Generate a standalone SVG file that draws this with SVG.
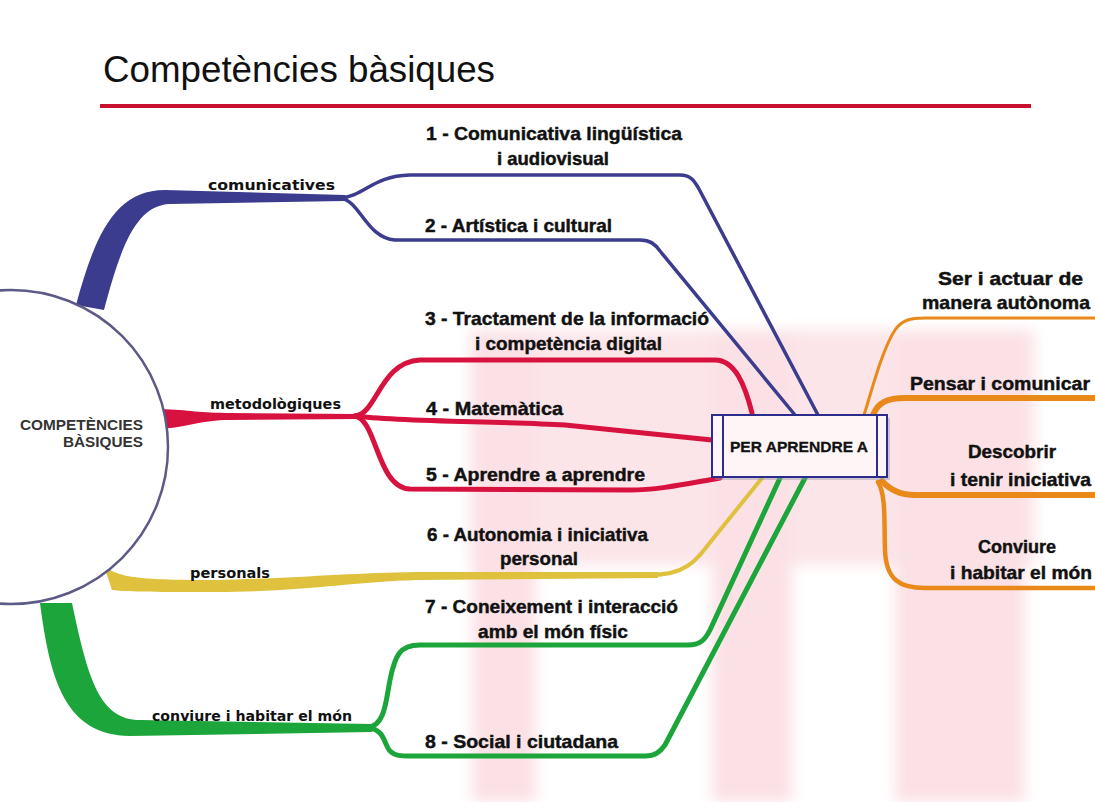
<svg xmlns="http://www.w3.org/2000/svg" width="1095" height="802" viewBox="0 0 1095 802">
<defs>
<style>
.t{font-family:"Liberation Sans",Arial,sans-serif;font-weight:bold;font-size:19px;fill:#111;stroke:#111;stroke-width:0.45}
.s{font-family:"DejaVu Sans","Liberation Sans",sans-serif;font-weight:bold;font-size:14px;fill:#111}
.ln{fill:none;stroke-linecap:round;stroke-linejoin:round}
.blue{stroke:#3c3c8e}
.red{stroke:#d8123f}
.yel{stroke:#dfc13d}
.grn{stroke:#1ca53a}
.org{stroke:#e8891a}
.wm{fill:#fbe1e5}
</style>
<filter id="soft" x="-5%" y="-5%" width="110%" height="110%"><feGaussianBlur stdDeviation="7"/></filter>
</defs>
<rect width="1095" height="802" fill="#ffffff"/>
<g id="watermark" filter="url(#soft)">
<rect class="wm" x="470" y="330" width="565" height="235" opacity="0.85"/>
<rect class="wm" x="472" y="330" width="64" height="472"/>
<rect class="wm" x="712" y="330" width="80" height="472"/>
<rect class="wm" x="895" y="330" width="130" height="472"/>
</g>
<g id="title">
<text x="103" y="82" style="font-family:'Liberation Sans',Arial,sans-serif;font-size:36px;fill:#111" textLength="392" lengthAdjust="spacingAndGlyphs">Competències bàsiques</text>
<rect x="100" y="104" width="931" height="4" fill="#c8102e"/>
</g>
<g id="connectors">
<path d="M76 305 C95 235 115 190 165 190 L345 195 L345 201 L170 204 C135 205 120 250 104 310 Z" fill="#3c3c8e"/>
<path class="ln blue" stroke-width="3.5" d="M340 198 C365 196 372 176 410 175 L680 175 C690 175 694 180 699 189 L818 415"/>
<path class="ln blue" stroke-width="3.5" d="M340 198 C360 200 366 238 395 240 L640 240 C650 240 655 244 660 251 L795 415"/>
<path d="M160 409 C190 410 200 413 230 413 L358 414 L358 419 L230 420 C200 420 190 427 160 429 Z" fill="#d8123f"/>
<path class="ln red" stroke-width="5" d="M355 416 C377 414 380 362 420 360 L715 360 C735 360 745 385 752 413"/>
<path class="ln red" stroke-width="5" d="M355 416 C400 422 500 421 565 425 L712 440"/>
<path class="ln red" stroke-width="5" d="M355 416 C377 420 377 488 410 489 L630 490 C660 490 690 483 720 478"/>
<path d="M104 566 C120 578 140 580 216 580 C300 578 350 573 417 572 L658 572 L658 578 L417 580 C350 582 300 592 216 592 C160 592 130 592 112 590 Z" fill="#dfc13d"/>
<path class="ln yel" stroke-width="4" d="M650 575 C685 575 695 562 712 540 L762 478"/>
<path d="M40 603 L72 603 C88 680 100 720 140 720 L372 724 L372 732 L130 736 C65 735 50 680 40 603 Z" fill="#1ca53a"/>
<path class="ln grn" stroke-width="5" d="M368 727 C385 726 386 700 390 680 C395 655 400 645 420 645 L688 645 C700 645 705 640 710 630 L780 478"/>
<path class="ln grn" stroke-width="5" d="M368 728 C385 729 384 745 390 751 C395 756 400 756 412 756 L645 756 C655 756 660 752 665 745 L805 478"/>
<path class="ln org" stroke-width="3" d="M864 415 C872 390 882 350 895 330 C902 320 910 318 925 318 L1095 318"/>
<path class="ln org" stroke-width="6" d="M873 415 C878 402 888 398 905 398 L1095 398"/>
<path class="ln org" stroke-width="6" d="M882 481 C890 490 900 495 915 495 L1095 495"/>
<path class="ln org" stroke-width="4.5" d="M878 482 C886 495 884 520 885 550 C886 580 900 588 925 588 L1095 588"/>
</g>
<g id="root">
<circle cx="11" cy="447" r="157" fill="#ffffff" stroke="#5c5a86" stroke-width="2.5"/>
<text x="143" y="430" text-anchor="end" style="font-family:'Liberation Sans',Arial,sans-serif;font-weight:bold;font-size:14px;fill:#333" textLength="123" lengthAdjust="spacingAndGlyphs">COMPETÈNCIES</text>
<text x="143" y="447" text-anchor="end" style="font-family:'Liberation Sans',Arial,sans-serif;font-weight:bold;font-size:14px;fill:#333" textLength="80" lengthAdjust="spacingAndGlyphs">BÀSIQUES</text>
</g>
<g id="label-comunicatives"><text class="s" x="208" y="190" textLength="127" lengthAdjust="spacingAndGlyphs">comunicatives</text></g>
<g id="label-metodologiques"><text class="s" x="210" y="409" textLength="131" lengthAdjust="spacingAndGlyphs">metodològiques</text></g>
<g id="label-personals"><text class="s" x="190" y="578" textLength="80" lengthAdjust="spacingAndGlyphs">personals</text></g>
<g id="label-conviure"><text class="s" x="152" y="721" textLength="200" lengthAdjust="spacingAndGlyphs">conviure i habitar el món</text></g>
<g id="c1"><text class="t" x="426" y="140" textLength="256" lengthAdjust="spacingAndGlyphs">1 - Comunicativa lingüística</text><text class="t" x="497" y="165" textLength="112" lengthAdjust="spacingAndGlyphs">i audiovisual</text></g>
<g id="c2"><text class="t" x="425" y="232" textLength="187" lengthAdjust="spacingAndGlyphs">2 - Artística i cultural</text></g>
<g id="c3"><text class="t" x="425" y="325" textLength="284" lengthAdjust="spacingAndGlyphs">3 - Tractament de la informació</text><text class="t" x="475" y="350" textLength="187" lengthAdjust="spacingAndGlyphs">i competència digital</text></g>
<g id="c4"><text class="t" x="426" y="415" textLength="137" lengthAdjust="spacingAndGlyphs">4 - Matemàtica</text></g>
<g id="c5"><text class="t" x="426" y="481" textLength="219" lengthAdjust="spacingAndGlyphs">5 - Aprendre a aprendre</text></g>
<g id="c6"><text class="t" x="427" y="541" textLength="221" lengthAdjust="spacingAndGlyphs">6 - Autonomia i iniciativa</text><text class="t" x="500" y="565" textLength="78" lengthAdjust="spacingAndGlyphs">personal</text></g>
<g id="c7"><text class="t" x="425" y="613" textLength="253" lengthAdjust="spacingAndGlyphs">7 - Coneixement i interacció</text><text class="t" x="478" y="638" textLength="150" lengthAdjust="spacingAndGlyphs">amb el món físic</text></g>
<g id="c8"><text class="t" x="425" y="748" textLength="193" lengthAdjust="spacingAndGlyphs">8 - Social i ciutadana</text></g>
<g id="hub">
<rect x="715" y="418" width="175" height="62" fill="#9a9aa8" opacity="0.45"/>
<rect x="712" y="415" width="175" height="62" fill="#fdf5f6" stroke="#2c2c8c" stroke-width="2"/>
<line x1="723" y1="415" x2="723" y2="477" stroke="#2c2c8c" stroke-width="2"/>
<line x1="877" y1="415" x2="877" y2="477" stroke="#2c2c8c" stroke-width="2"/>
<text x="730" y="452" style="font-family:'Liberation Sans',Arial,sans-serif;font-weight:bold;font-size:15px;fill:#111;stroke:#111;stroke-width:0.3" textLength="138" lengthAdjust="spacingAndGlyphs">PER APRENDRE A</text>
</g>
<g id="r1"><text class="t" x="938" y="285" textLength="145" lengthAdjust="spacingAndGlyphs">Ser i actuar de</text><text class="t" x="922" y="309" textLength="168" lengthAdjust="spacingAndGlyphs">manera autònoma</text></g>
<g id="r2"><text class="t" x="910" y="390" textLength="180" lengthAdjust="spacingAndGlyphs">Pensar i comunicar</text></g>
<g id="r3"><text class="t" x="968" y="458" textLength="88" lengthAdjust="spacingAndGlyphs">Descobrir</text><text class="t" x="950" y="486" textLength="141" lengthAdjust="spacingAndGlyphs">i tenir iniciativa</text></g>
<g id="r4"><text class="t" x="978" y="553" textLength="78" lengthAdjust="spacingAndGlyphs">Conviure</text><text class="t" x="950" y="579" textLength="142" lengthAdjust="spacingAndGlyphs">i habitar el món</text></g>
</svg>
